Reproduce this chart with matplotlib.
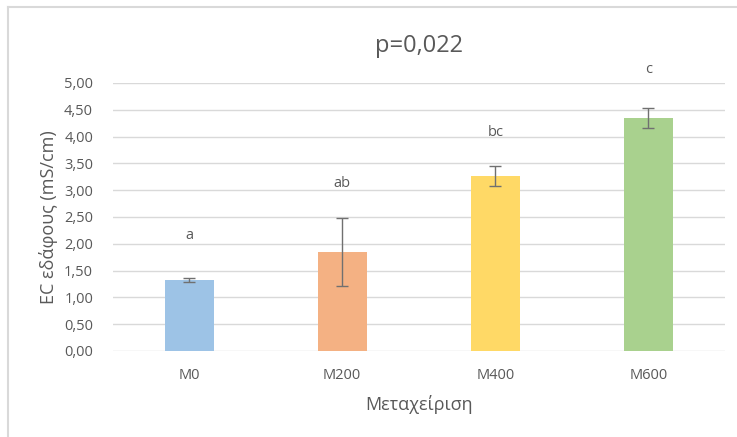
import matplotlib.pyplot as plt
from matplotlib.lines import Line2D

# Δεδομένα
categories = ['M0', 'M200', 'M400', 'M600']
values = [1.32, 1.85, 3.27, 4.35]
errors = [0.04, 0.63, 0.19, 0.19]
letters = ['a', 'ab', 'bc', 'c']
letter_y = [2.15, 3.13, 4.07, 5.26]
colors = ['#9DC3E6', '#F4B183', '#FFD966', '#A9D18E']
yticks = [0, 0.5, 1, 1.5, 2, 2.5, 3, 3.5, 4, 4.5, 5]

plt.rcParams['font.family'] = ['Open Sans', 'DejaVu Sans']
grey = '#595959'

fig = plt.figure(figsize=(7.37, 4.37), dpi=100)
ax = fig.add_axes([112.5 / 737, 1 - 351 / 437, (725 - 112.5) / 737, (351 - 83) / 437])

x = range(len(categories))
ax.bar(x, values, width=0.32, color=colors, zorder=2)
ax.errorbar(x, values, yerr=errors, fmt='none', ecolor='#707070',
            elinewidth=1, capsize=4, capthick=1, zorder=3)

for i, (t, yy) in enumerate(zip(letters, letter_y)):
    ax.text(i, yy, t, ha='center', va='center', fontsize=10.5, color=grey)

ax.set_xlim(-0.5, len(categories) - 0.5)
ax.set_ylim(0, 5)
ax.set_yticks(yticks)
ax.set_yticklabels([f'{v:.2f}'.replace('.', ',') for v in yticks])
ax.set_xticks(list(x))
ax.set_xticklabels(categories)
ax.tick_params(axis='both', length=0, colors=grey, labelsize=10.5)
ax.tick_params(axis='y', pad=14)
ax.tick_params(axis='x', pad=12)
ax.grid(axis='y', color='#D9D9D9', linewidth=1, zorder=0)
ax.set_axisbelow(True)
for s in ax.spines.values():
    s.set_visible(False)

ax.set_title('p=0,022', fontsize=17, color=grey, pad=22)
ax.set_xlabel('Μεταχείριση', fontsize=13, color=grey, labelpad=9)
ax.set_ylabel('EC εδάφους (mS/cm)', fontsize=13, color=grey, labelpad=4)

# πλαίσιο γραφήματος
fig.add_artist(Line2D([8 / 737, 1], [1 - 7 / 437, 1 - 7 / 437], color='#D9D9D9', lw=1.5))
fig.add_artist(Line2D([8 / 737, 8 / 737], [0, 1 - 7 / 437], color='#D9D9D9', lw=1.5))

plt.savefig('out.png', dpi=100)
